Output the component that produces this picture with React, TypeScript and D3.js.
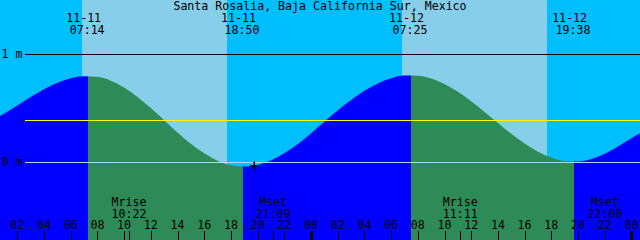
import React from "react";
import * as d3 from "d3";

const title = "Santa Rosalia, Baja California Sur, Mexico";

// hours from midnight 11-11 (local)
const sampleHours = [
  -1, 0, 1, 2, 3, 4, 5, 6, 7, 8, 9, 10, 11, 12, 13, 14, 15, 16, 17, 18, 19, 20, 21, 22, 23, 24,
  25, 26, 27, 28, 29, 30, 31, 32, 33, 34, 35, 36, 37, 38, 39, 40, 41, 42, 43, 44, 45, 46, 47, 48, 49,
];
// tide height (m)
const tideHeights = [
  0.327, 0.379, 0.446, 0.522, 0.601, 0.674, 0.734, 0.776, 0.795, 0.789, 0.753, 0.689, 0.602, 0.499,
  0.387, 0.274, 0.168, 0.08, 0.012, -0.03, -0.042, -0.027, 0.015, 0.08, 0.165, 0.265, 0.372, 0.476,
  0.573, 0.659, 0.727, 0.776, 0.8, 0.799, 0.773, 0.722, 0.65, 0.562, 0.464, 0.361, 0.261, 0.171,
  0.095, 0.041, 0.009, 0.004, 0.028, 0.077, 0.144, 0.219, 0.29,
];

// tide turning points (hours, kind)
const extremeHours = [-2.8, 7.3, 18.9, 31.49, 43.7, 51.6];
const extremeKinds = ["low", "high", "low", "high", "low", "high"];

// daylight shading (hours)
const dayStarts = [6.85, 30.82];
const dayEnds = [17.71, 41.68];

// sun event labels
const sunDates = ["11-11", "11-11", "11-12", "11-12"];
const sunTimes = ["07:14", "18:50", "07:25", "19:38"];
const sunDays = [0, 0, 1, 1];

// moon event labels
const moonNames = ["Mrise", "Mset", "Mrise", "Mset"];
const moonTimes = ["10:22", "21:09", "11:11", "22:00"];
const moonDays = [0, 0, 1, 1];

// axis
const tickHours = [2, 4, 6, 8, 10, 12, 14, 16, 18, 20, 22, 24, 26, 28, 30, 32, 34, 36, 38, 40, 42, 44, 46, 48];
const tickLabels = ["02", "04", "06", "08", "10", "12", "14", "16", "18", "20", "22", "00",
  "02", "04", "06", "08", "10", "12", "14", "16", "18", "20", "22", "00"];

const levelValues = [1, 0];
const levelLabels = ["1 m", "0 m"];
const meanLevel = 0.39;
const markerHour = 19.75;
const markerHeight = -0.037;

const W = 640;
const H = 240;
const FONT = "'DejaVu Sans Mono', monospace";
const FS = 11.6;

const toHour = (t: string, day: number) => {
  const [hh, mm] = t.split(":").map(Number);
  return day * 24 + hh + mm / 60;
};

export default function App() {
  const x = d3.scaleLinear().domain([0, 48]).range([-9.4, 631.4]);
  const y = d3.scaleLinear().domain([0, 1]).range([162, 54]);

  const pts = sampleHours.map((h, i) => [h, tideHeights[i]] as [number, number]);
  const area = d3
    .area<[number, number]>()
    .x((d) => x(d[0]))
    .y0(H)
    .y1((d) => y(d[1]))
    .curve(d3.curveMonotoneX);

  const segs = extremeHours.slice(0, -1).map((h, i) => ({
    x0: x(h),
    x1: x(extremeHours[i + 1]),
    color: extremeKinds[i] === "low" ? "#0000ff" : "#2e8b57",
  }));

  return (
    <svg
      width={W}
      height={H}
      style={{ position: "absolute", left: 0, top: 0, display: "block" }}
      fontFamily={FONT}
      fontSize={FS}
    >
      <defs>
        <clipPath id="tide">
          <path d={area(pts) || ""} />
        </clipPath>
      </defs>
      <rect x={0} y={0} width={W} height={H} fill="#00bfff" />
      {dayStarts.map((s, i) => (
        <rect
          key={i}
          x={Math.round(x(s))}
          y={0}
          width={Math.round(x(dayEnds[i])) - Math.round(x(s))}
          height={H}
          fill="#87ceeb"
        />
      ))}
      <g clipPath="url(#tide)">
        {segs.map((s, i) => (
          <rect key={i} x={Math.round(s.x0)} y={0} width={Math.round(s.x1) - Math.round(s.x0)} height={H} fill={s.color} />
        ))}
      </g>

      {/* level lines */}
      <line x1={25} x2={W} y1={y(levelValues[0]) + 0.5} y2={y(levelValues[0]) + 0.5} stroke="#000" strokeWidth={1} />
      <line x1={25} x2={W} y1={y(levelValues[1]) + 0.5} y2={y(levelValues[1]) + 0.5} stroke="#a8dcef" strokeWidth={1} />
      <line x1={25} x2={W} y1={Math.round(y(meanLevel)) + 0.5} y2={Math.round(y(meanLevel)) + 0.5} stroke="#ffff00" strokeWidth={1} />
      {levelValues.map((v, i) => (
        <text key={i} x={1.5} y={y(v) + 4}>
          {levelLabels[i]}
        </text>
      ))}

      {/* title */}
      <text x={W / 2} y={10} textAnchor="middle">
        {title}
      </text>

      {/* sun labels */}
      {sunTimes.map((t, i) => {
        const cx = x(toHour(t, sunDays[i]));
        return (
          <g key={i}>
            <text x={cx - 3.5} y={21.7} textAnchor="middle">
              {sunDates[i]}
            </text>
            <text x={cx} y={34.3} textAnchor="middle">
              {t}
            </text>
          </g>
        );
      })}

      {/* moon labels */}
      {moonTimes.map((t, i) => {
        const cx = x(toHour(t, moonDays[i]));
        return (
          <g key={i}>
            <text x={cx} y={206} textAnchor="middle">
              {moonNames[i]}
            </text>
            <text x={cx} y={218.3} textAnchor="middle">
              {t}
            </text>
            <line x1={Math.round(cx) + 0.5} x2={Math.round(cx) + 0.5} y1={231} y2={H} stroke="#000" />
          </g>
        );
      })}

      {/* time axis */}
      {tickHours.map((h, i) => {
        const cx = x(h);
        const mid = h % 24 === 0;
        return (
          <g key={i}>
            <text x={cx} y={229.3} textAnchor="middle">
              {tickLabels[i]}
            </text>
            <line
              x1={Math.round(cx) + 0.5}
              x2={Math.round(cx) + 0.5}
              y1={231}
              y2={H}
              stroke="#000"
              strokeWidth={mid ? 3 : 1}
            />
          </g>
        );
      })}

      {/* marker */}
      <g stroke="#000" strokeWidth={1.5}>
        <line x1={x(markerHour) - 4.5} x2={x(markerHour) + 4.5} y1={y(markerHeight)} y2={y(markerHeight)} />
        <line x1={x(markerHour)} x2={x(markerHour)} y1={y(markerHeight) - 4.5} y2={y(markerHeight) + 4.5} />
      </g>
    </svg>
  );
}
